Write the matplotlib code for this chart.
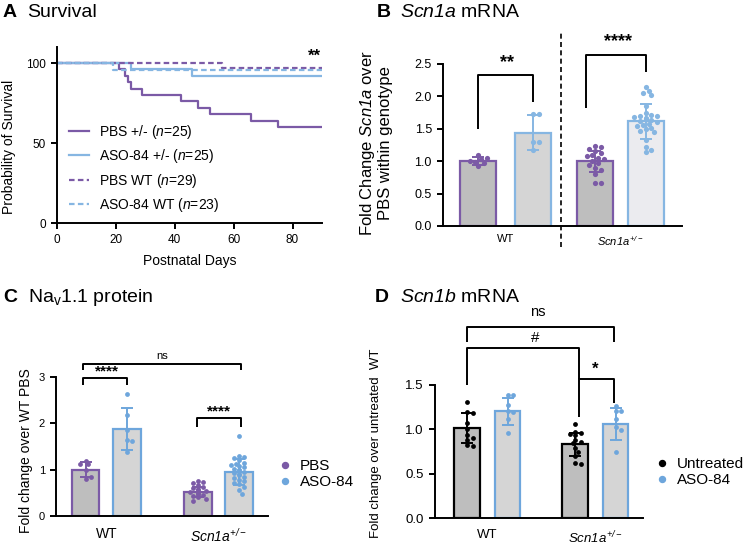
import matplotlib
matplotlib.use('Agg')
import matplotlib.pyplot as plt
from matplotlib.lines import Line2D
import numpy as np

plt.rcParams['font.family'] = ['Liberation Sans', 'DejaVu Sans']
plt.rcParams['mathtext.fontset'] = 'custom'
# gene names are italic, digits included
plt.rcParams['mathtext.rm'] = 'Liberation Sans:italic'
plt.rcParams['mathtext.it'] = 'Liberation Sans:italic'
plt.rcParams['mathtext.sf'] = 'Liberation Sans'
plt.rcParams['mathtext.bf'] = 'Liberation Sans:bold'

PURPLE = '#7B5AA6'
BLUE = '#86B6E2'
BLUE2 = '#6EA6DC'
FILL_DARK = '#BEBEBE'
FILL_MID = '#D5D5D5'
FILL_LIGHT = '#EBEBEF'

# ---------- A: survival ----------
pbs_het_days = [0, 21, 23, 24, 25, 29, 42, 48, 52, 66, 75, 90]
pbs_het_surv = [100, 96, 92, 88, 84, 80, 76, 72, 68, 64, 60, 60]
aso_het_days = [0, 25, 46, 90]
aso_het_surv = [100, 96, 92, 92]
pbs_wt_days = [0, 56, 90]
pbs_wt_surv = [100, 96.6, 96.6]
aso_wt_days = [0, 19, 90]
aso_wt_surv = [100, 95.7, 95.7]
surv_labels = ['PBS +/- ($\\mathit{n}$=25)', 'ASO-84 +/- ($\\mathit{n}$=25)',
               'PBS WT ($\\mathit{n}$=29)', 'ASO-84 WT ($\\mathit{n}$=23)']

# ---------- B: Scn1a mRNA ----------
b_means = [1.00, 1.44, 1.00, 1.62]
b_sds = [0.06, 0.27, 0.16, 0.27]
b_points = [
    [0.93, 0.97, 0.99, 1.01, 1.03, 1.05, 1.10],
    [1.73, 1.73, 1.30, 1.30, 1.17],
    [1.24, 1.22, 1.19, 1.16, 1.12, 1.10, 1.08, 1.05, 1.03, 1.00, 0.97, 0.94,
     0.90, 0.86, 0.80, 0.66, 0.66],
    [2.15, 2.08, 2.06, 2.02, 1.85, 1.75, 1.72, 1.70, 1.69, 1.68, 1.66, 1.65,
     1.64, 1.62, 1.60, 1.58, 1.56, 1.55, 1.52, 1.50, 1.47, 1.45, 1.32, 1.22,
     1.17, 1.14],
]
b_groups = ['WT', '$Scn1a^{+/-}$']

# ---------- C: Nav1.1 protein ----------
c_means = [1.00, 1.88, 0.52, 0.94]
c_sds = [0.17, 0.45, 0.11, 0.28]
c_points = [
    [1.19, 1.11, 1.13, 0.99, 0.79, 0.83],
    [2.62, 2.17, 1.86, 1.64, 1.62, 1.38],
    [0.75, 0.73, 0.70, 0.66, 0.63, 0.60, 0.58, 0.56, 0.54, 0.52, 0.50, 0.48,
     0.46, 0.44, 0.42, 0.40, 0.37, 0.33],
    [1.73, 1.30, 1.27, 1.25, 1.20, 1.15, 1.12, 1.10, 1.08, 1.05, 1.02, 1.00,
     0.98, 0.95, 0.92, 0.90, 0.88, 0.85, 0.82, 0.78, 0.75, 0.72, 0.68, 0.62,
     0.55, 0.47],
]
c_groups = ['WT', '$Scn1a^{+/-}$']

# ---------- D: Scn1b mRNA ----------
d_means = [1.01, 1.20, 0.83, 1.06]
d_sds = [0.17, 0.15, 0.13, 0.18]
d_points = [
    [1.31, 1.19, 1.18, 1.07, 1.00, 0.93, 0.90, 0.88, 0.82, 0.81],
    [1.38, 1.38, 1.27, 1.20, 1.19, 1.12, 0.96],
    [1.06, 0.97, 0.96, 0.95, 0.94, 0.88, 0.86, 0.84, 0.79, 0.75, 0.70, 0.62, 0.61],
    [1.26, 1.21, 1.20, 1.12, 1.02, 0.99, 0.75],
]
d_groups = ['WT', '$Scn1a^{+/-}$']

W, H = 750, 555
fig = plt.figure(figsize=(W / 100, H / 100), dpi=100)


def rect(left, right, bottom, top):
    # pixel box -> figure fraction
    return [left / W, (H - bottom) / H, (right - left) / W, (bottom - top) / H]


def style_axes(ax, fs):
    for s in ['top', 'right']:
        ax.spines[s].set_visible(False)
    for s in ['left', 'bottom']:
        ax.spines[s].set_linewidth(1.4)
    ax.tick_params(width=1.4, length=4.5, labelsize=fs)


def swarm(ax, xc, vals, dot_px, half_px):
    tr = ax.transData
    inv = tr.inverted()
    xc_px = tr.transform((xc, 0))[0]
    placed = []
    xs = []
    for v in vals:
        y_px = tr.transform((xc, v))[1]
        chosen = 0
        for k in range(0, 40):
            off = ((k + 1) // 2) * dot_px * 0.55 * (1 if k % 2 else -1)
            if abs(off) > half_px:
                continue
            if all((off - px) ** 2 + (y_px - py) ** 2 >= (dot_px * 0.9) ** 2 for px, py in placed):
                chosen = off
                break
        placed.append((chosen, y_px))
        xs.append(inv.transform((xc_px + chosen, y_px))[0])
    return xs


def bar_panel(ax, pos, means, sds, points, edges, fills, pcolors, width, dot_px):
    tr = ax.transData
    unit_px = tr.transform((1, 0))[0] - tr.transform((0, 0))[0]
    half_px = width * unit_px / 2 - 4
    for i in range(len(pos)):
        ax.bar(pos[i], means[i], width=width, color=fills[i], edgecolor=edges[i],
               linewidth=1.6, zorder=1)
        xs = swarm(ax, pos[i], points[i], dot_px, half_px)
        ax.scatter(xs, points[i], s=(dot_px * 0.72) ** 2, color=pcolors[i],
                   linewidths=0, zorder=3)
        ax.errorbar(pos[i], means[i], yerr=sds[i], fmt='none', ecolor=edges[i],
                    elinewidth=1.4, capsize=4.5, capthick=1.4, zorder=4)


def bracket(ax, x1, x2, y, y1, y2, label, tx, ty, fs, bold=True):
    ax.plot([x1, x1, x2, x2], [y1, y, y, y2], color='black', lw=1.4,
            clip_on=False, solid_capstyle='butt', zorder=5)
    ax.text(tx, ty, label, ha='center', va='center', fontsize=fs,
            fontweight='bold' if bold else 'normal', clip_on=False)


# ================= A =================
axA = fig.add_axes(rect(57, 322, 223, 47))
style_axes(axA, 8.5)
axA.step(pbs_het_days, pbs_het_surv, where='post', color=PURPLE, lw=1.6, label=surv_labels[0])
axA.step(aso_het_days, aso_het_surv, where='post', color=BLUE, lw=1.6, label=surv_labels[1])
axA.step(pbs_wt_days, pbs_wt_surv, where='post', color=PURPLE, lw=1.6, ls=(0, (2.5, 1.5)), label=surv_labels[2])
axA.step(aso_wt_days, aso_wt_surv, where='post', color=BLUE, lw=1.6, ls=(0, (2.5, 1.5)), label=surv_labels[3])
axA.set_xlim(0, 90)
axA.set_ylim(0, 110)
axA.set_xticks([0, 20, 40, 60, 80])
axA.set_yticks([0, 50, 100])
axA.set_xlabel('Postnatal Days', fontsize=10)
axA.set_ylabel('Probability of Survival', fontsize=10)
axA.xaxis.set_label_coords(0.5, -0.175)
axA.yaxis.set_label_coords(-0.155, 0.43)
axA.text(87.5, 104.5, '**', ha='center', va='center', fontsize=12, fontweight='bold')
axA.legend(loc='center left', bbox_to_anchor=(0.045, 0.31), frameon=False, fontsize=10,
           handlelength=1.45, handletextpad=0.7, labelspacing=0.45, borderpad=0, borderaxespad=0)
fig.text(3 / W, 1 - 17.3 / H, 'A', fontsize=14, fontweight='bold', va='baseline')
fig.text(27 / W, 1 - 17.3 / H, 'Survival', fontsize=14, va='baseline')

# ================= B =================
axB = fig.add_axes(rect(443, 682, 226, 64))
style_axes(axB, 9)
b_pos = [0, 1, 2.13, 3.05]
axB.set_xlim(-0.64, 3.71)
axB.set_ylim(0, 2.5)
bar_panel(axB, b_pos, b_means, b_sds, b_points,
          [PURPLE, BLUE, PURPLE, BLUE], [FILL_DARK, FILL_MID, FILL_DARK, FILL_LIGHT],
          [PURPLE, BLUE, PURPLE, BLUE], 0.65, 5.2)
axB.set_yticks([0, 0.5, 1.0, 1.5, 2.0, 2.5])
axB.set_yticklabels(['0.0', '0.5', '1.0', '1.5', '2.0', '2.5'])
axB.set_xticks([0.5, 2.59])
axB.set_xticklabels(b_groups, fontsize=8)
axB.tick_params(axis='x', length=0, pad=6)
axB.axvline(1.51, ymin=-0.13, ymax=1.19, color='black', lw=1.2, ls=(0, (3, 2)), clip_on=False)
axB.set_ylabel('Fold Change $Scn1a$ over\nPBS within genotype', fontsize=12,
               linespacing=1.05)
axB.yaxis.set_label_coords(-0.21, 0.51)
bracket(axB, 0, 1, 2.33, 1.49, 1.91, '**', 0.52, 2.52, 13)
bracket(axB, 1.96, 3.05, 2.64, 1.82, 2.37, '****', 2.54, 2.84, 13)
fig.text(377 / W, 1 - 17.3 / H, 'B', fontsize=14, fontweight='bold', va='baseline')
fig.text(400 / W, 1 - 17.3 / H, '$Scn1a$ mRNA', fontsize=14, va='baseline')

# ================= C =================
axC = fig.add_axes(rect(56, 268, 516, 376.7))
style_axes(axC, 8)
c_pos = [0, 1, 2.71, 3.69]
axC.set_xlim(-0.71, 4.39)
axC.set_ylim(0, 3)
bar_panel(axC, c_pos, c_means, c_sds, c_points,
          [PURPLE, BLUE2, PURPLE, BLUE2], [FILL_DARK, FILL_MID, FILL_DARK, FILL_MID],
          [PURPLE, BLUE2, PURPLE, BLUE2], 0.667, 4.8)
axC.set_yticks([0, 1, 2, 3])
axC.set_xticks([0.5, 3.2])
axC.set_xticklabels(c_groups, fontsize=10)
axC.tick_params(axis='x', length=0, pad=8)
axC.set_ylabel('Fold change over WT PBS', fontsize=10)
axC.yaxis.set_label_coords(-0.11, 0.47)
bracket(axC, -0.05, 3.75, 3.28, 3.14, 3.14, 'ns', 1.84, 3.44, 8, bold=False)
bracket(axC, -0.05, 1.01, 2.98, 2.82, 2.82, '****', 0.51, 3.11, 11)
bracket(axC, 2.68, 3.75, 2.10, 1.92, 1.92, '****', 3.2, 2.25, 11)
c_handles = [Line2D([], [], ls='none', marker='o', ms=4.3, color=PURPLE),
             Line2D([], [], ls='none', marker='o', ms=4.3, color=BLUE2)]
fig.legend(c_handles, ['PBS', 'ASO-84'], loc='center left', bbox_to_anchor=(280 / W, 1 - 474 / H),
           frameon=False, fontsize=11, handlelength=0.6, handletextpad=0.7,
           labelspacing=0.15, borderpad=0, borderaxespad=0)
fig.text(3 / W, 1 - 301.7 / H, 'C', fontsize=14, fontweight='bold', va='baseline')
fig.text(28 / W, 1 - 301.7 / H, 'Na$_\\mathsf{v}$1.1 protein', fontsize=14, va='baseline')

# ================= D =================
axD = fig.add_axes(rect(435, 643, 518.3, 384.7))
style_axes(axD, 9.5)
d_pos = [0, 1, 2.68, 3.68]
axD.set_xlim(-0.8, 4.36)
axD.set_ylim(0, 1.5)
bar_panel(axD, d_pos, d_means, d_sds, d_points,
          ['black', BLUE2, 'black', BLUE2], [FILL_DARK, FILL_MID, FILL_DARK, FILL_MID],
          ['black', BLUE2, 'black', BLUE2], 0.64, 4.8)
axD.set_yticks([0, 0.5, 1.0, 1.5])
axD.set_yticklabels(['0.0', '0.5', '1.0', '1.5'])
axD.set_xticks([0.5, 3.18])
axD.set_xticklabels(d_groups, fontsize=9.5)
axD.tick_params(axis='x', length=0, pad=8)
axD.set_ylabel('Fold change over untreated  WT', fontsize=9.5)
axD.yaxis.set_label_coords(-0.255, 0.56)
bracket(axD, 0, 3.63, 2.15, 1.98, 1.98, 'ns', 1.76, 2.32, 10.5, bold=False)
bracket(axD, 0, 2.77, 1.91, 1.50, 1.56, '#', 1.68, 2.02, 11, bold=False)
bracket(axD, 2.77, 3.63, 1.56, 1.14, 1.30, '*', 3.17, 1.67, 12)
d_handles = [Line2D([], [], ls='none', marker='o', ms=4.3, color='black'),
             Line2D([], [], ls='none', marker='o', ms=4.3, color=BLUE2)]
fig.legend(d_handles, ['Untreated', 'ASO-84'], loc='center left', bbox_to_anchor=(657 / W, 1 - 472 / H),
           frameon=False, fontsize=11, handlelength=0.6, handletextpad=0.7,
           labelspacing=0.15, borderpad=0, borderaxespad=0)
fig.text(375 / W, 1 - 301.7 / H, 'D', fontsize=14, fontweight='bold', va='baseline')
fig.text(400 / W, 1 - 301.7 / H, '$Scn1b$ mRNA', fontsize=14, va='baseline')

fig.savefig('out.png', dpi=100)
